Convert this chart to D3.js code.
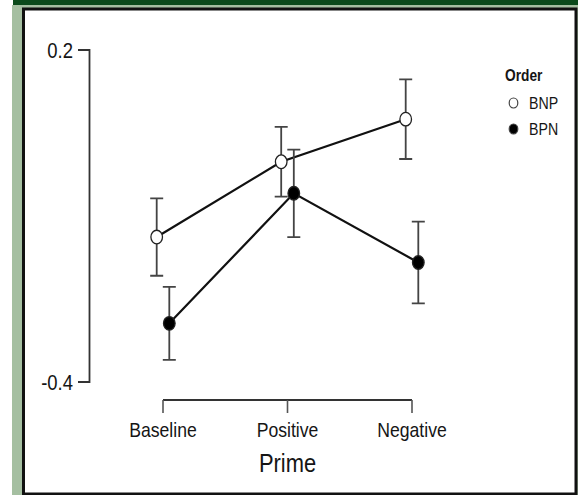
<!DOCTYPE html>
<html>
<head>
<meta charset="utf-8">
<script src="https://cdn.jsdelivr.net/npm/d3@7"></script>
<style>
  body { margin: 0; background: #fff; }
  text { font-family: "Liberation Sans", Arial, sans-serif; fill: #151515; }
</style>
</head>
<body>
<svg width="578" height="495"></svg>
<script>
// data
const categories = ['Baseline', 'Positive', 'Negative'];
const seriesNames = ['BNP', 'BPN'];
const bnpValues = [-0.138, -0.002, 0.075];
const bnpErrors = [0.070, 0.063, 0.072];
const bpnValues = [-0.294, -0.059, -0.184];
const bpnErrors = [0.066, 0.079, 0.074];
const yTicks = [-0.4, 0.2];

const svg = d3.select('svg');
const width = +svg.attr('width');
const height = +svg.attr('height');

// frame round the figure
svg.append('rect').attr('x', 12).attr('y', 5).attr('width', width - 12).attr('height', height - 5).attr('fill', '#a5bfa1');
svg.append('rect').attr('x', 13).attr('y', 0).attr('width', width - 13).attr('height', 5).attr('fill', '#0b4a1b');
svg.append('rect')
  .attr('x', 23.5).attr('y', 9).attr('width', 552.5).attr('height', 485)
  .attr('fill', '#fff').attr('stroke', '#111').attr('stroke-width', 3);

const squeeze = 0.86; // text in the picture is a bit narrow

function label(x, y, str, size, anchor, weight) {
  return svg.append('text')
    .attr('transform', `translate(${x},${y}) scale(${squeeze},1)`)
    .attr('text-anchor', anchor || 'middle')
    .attr('font-size', size)
    .attr('font-weight', weight || 'normal')
    .text(str);
}

const y = d3.scaleLinear().domain([-0.4, 0.2]).range([382, 50]);
const x = d3.scalePoint().domain(categories).range([163, 412]);
const offset = 6.3;

// y axis, bracket style
const axisColor = '#333';
svg.append('path')
  .attr('d', `M78,${y(0.2)}H89.5V${y(-0.4)}H78`)
  .attr('fill', 'none').attr('stroke', axisColor).attr('stroke-width', 1.8);
yTicks.forEach(t => {
  // plain hyphen for the minus, as in the picture
  label(73, y(t) + 8, d3.format('.1f')(t).replace('\u2212', '-'), 21.5, 'end');
});

// x axis
const xAxisY = 400;
svg.append('line')
  .attr('x1', x(categories[0])).attr('x2', x(categories[2]))
  .attr('y1', xAxisY).attr('y2', xAxisY)
  .attr('stroke', axisColor).attr('stroke-width', 2.2);
categories.forEach(c => {
  svg.append('line')
    .attr('x1', x(c)).attr('x2', x(c))
    .attr('y1', xAxisY).attr('y2', xAxisY + 13)
    .attr('stroke', '#555').attr('stroke-width', 1.6);
  label(x(c), 437, c, 20.5);
});
label((x(categories[0]) + x(categories[2])) / 2, 472, 'Prime', 25.5);

// series
const series = [
  { name: seriesNames[0], values: bnpValues, errors: bnpErrors, dx: -offset, fill: '#fff' },
  { name: seriesNames[1], values: bpnValues, errors: bpnErrors, dx: offset, fill: '#000' }
];

const line = d3.line().x(d => d[0]).y(d => d[1]);

series.forEach(s => {
  const pts = categories.map((c, i) => [x(c) + s.dx, y(s.values[i])]);
  svg.append('path')
    .attr('d', line(pts))
    .attr('fill', 'none').attr('stroke', '#111').attr('stroke-width', 2.2);
});

series.forEach(s => {
  const g = svg.append('g');
  categories.forEach((c, i) => {
    const cx = x(c) + s.dx;
    const top = y(s.values[i] + s.errors[i]);
    const bot = y(s.values[i] - s.errors[i]);
    g.append('path')
      .attr('d', `M${cx},${top}V${bot}M${cx - 6.5},${top}H${cx + 6.5}M${cx - 6.5},${bot}H${cx + 6.5}`)
      .attr('fill', 'none').attr('stroke', '#444').attr('stroke-width', 1.8);
  });
});

series.forEach(s => {
  categories.forEach((c, i) => {
    svg.append('ellipse')
      .attr('cx', x(c) + s.dx).attr('cy', y(s.values[i]))
      .attr('rx', 5.8).attr('ry', 6.8)
      .attr('fill', s.fill).attr('stroke', '#222').attr('stroke-width', 1.3);
  });
});

// legend
label(505, 81, 'Order', 16, 'start', 'bold');
series.forEach((s, i) => {
  const ly = 103 + i * 26;
  svg.append('ellipse')
    .attr('cx', 513.5).attr('cy', ly).attr('rx', 4.3).attr('ry', 5)
    .attr('fill', s.fill).attr('stroke', '#444').attr('stroke-width', 1.2);
  label(529, ly + 6, s.name, 16.5, 'start');
});
</script>
</body>
</html>
